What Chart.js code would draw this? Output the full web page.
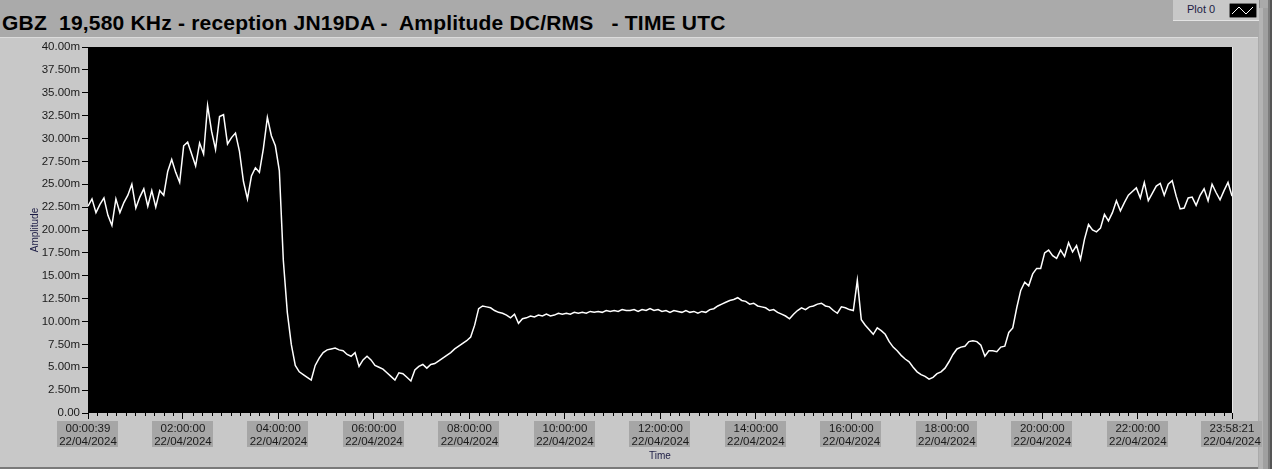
<!DOCTYPE html>
<html>
<head>
<meta charset="utf-8">
<script src="https://cdn.jsdelivr.net/npm/chart.js@4/dist/chart.umd.min.js"></script>
<style>
    html, body { margin: 0; padding: 0; }
    body { width: 1272px; height: 469px; background: #aaaaaa; position: relative; overflow: hidden;
           font-family: "Liberation Sans", Arial, sans-serif; }
    #title { position: absolute; left: 2px; top: 11px; font-size: 21px; font-weight: bold; color: #000;
             white-space: pre; line-height: 24px; letter-spacing: 0.2px; }
    #panel { position: absolute; left: 0; top: 37px; width: 1258px; height: 429px; background: #c8c8c8;
             border-top: 1px solid #dcdcdc; border-bottom: 2px solid #7a7a7a; }
    #legend { position: absolute; left: 1173px; top: 0; width: 86px; height: 20px; background: #c8c8c8;
              border-bottom: 1px solid #e4e4e4; border-right: 1px solid #8c8c8c; }
    #legend span { position: absolute; left: 14px; top: 3px; font-size: 11px; color: #1c1c44; }
    #legend svg { position: absolute; left: 56px; top: 3px; }
    #sb1 { position: absolute; left: 1259px; top: 8px; width: 4px; height: 461px; background: #b4b4b4; }
    #sb2 { position: absolute; left: 1263px; top: 8px; width: 5px; height: 461px; background: #a0a0a0; }
    #sb3 { position: absolute; left: 1268px; top: 0; width: 2px; height: 469px; background: #7c7c7c; }
    #sb4 { position: absolute; left: 1270px; top: 0; width: 2px; height: 469px; background: #555555; }
    #wrap { position: absolute; left: 0; top: 0; width: 1272px; height: 469px; }
</style>
</head>
<body>
<div id="panel"></div>
<div id="title">GBZ  19,580 KHz - reception JN19DA -  Amplitude DC/RMS   - TIME UTC</div>
<div id="legend"><span>Plot 0</span>
    <svg width="28" height="15"><rect x="0" y="0" width="28" height="15" fill="#000" stroke="#e0e0e0" stroke-width="1"/>
    <polyline points="3,11 10,4 17,11 24,4" fill="none" stroke="#fff" stroke-width="1"/></svg></div>
<div id="sb1"></div><div id="sb2"></div><div id="sb3"></div><div id="sb4"></div>
<div id="wrap"><canvas id="c" width="1272" height="469"></canvas></div>
<script>
// time span of the record, seconds after midnight UTC
const startSec = 39;          // 00:00:39
const endSec = 86301;         // 23:58:21
const dateLabel = '22/04/2024';

// x tick positions (seconds)
const tickSecs = [39, 7200, 14400, 21600, 28800, 36000, 43200, 50400, 57600, 64800, 72000, 79200, 86301];

// y axis (milli-units)
const yTicks = [0, 2.5, 5, 7.5, 10, 12.5, 15, 17.5, 20, 22.5, 25, 27.5, 30, 32.5, 35, 37.5, 40];

// amplitude, m (one reading about every 5 minutes)
const amplitude = [
    22.6, 23.4, 21.9, 22.8, 23.5, 21.6, 20.5, 23.4, 21.9, 23.0,
    23.8, 25.0, 22.4, 23.6, 24.5, 22.6, 24.3, 22.5, 24.3, 23.8,
    26.4, 27.7, 26.3, 25.2, 29.2, 29.6, 28.3, 27.0, 29.5, 28.3,
    33.6, 30.8, 28.8, 32.4, 32.6, 29.4, 30.1, 30.6, 28.6, 25.3,
    23.4, 25.9, 26.8, 26.3, 28.9, 32.3, 30.3, 29.2, 26.5, 16.7,
    11.0, 7.5, 5.2, 4.5, 4.2, 3.9, 3.6, 5.2, 6.0, 6.6,
    6.9, 7.0, 7.1, 6.9, 6.8, 6.4, 6.2, 6.6, 5.1, 5.8,
    6.2, 5.8, 5.2, 5.0, 4.8, 4.4, 4.0, 3.6, 4.4, 4.3,
    3.9, 3.5, 4.7, 5.1, 5.3, 4.9, 5.3, 5.4, 5.7, 6.0,
    6.3, 6.6, 7.0, 7.3, 7.6, 7.9, 8.3, 9.6, 11.4, 11.7,
    11.6, 11.5, 11.2, 11.0, 10.9, 10.7, 10.4, 10.8, 9.8, 10.3,
    10.4, 10.6, 10.5, 10.7, 10.6, 10.8, 10.6, 10.7, 10.9, 10.8,
    10.9, 10.8, 11.0, 10.9, 11.0, 10.9, 11.1, 11.0, 11.1, 11.0,
    11.2, 11.1, 11.2, 11.1, 11.3, 11.2, 11.2, 11.3, 11.1, 11.3,
    11.2, 11.4, 11.2, 11.3, 11.1, 11.2, 11.0, 11.2, 11.1, 11.0,
    11.2, 11.0, 11.1, 10.9, 11.1, 11.0, 11.3, 11.4, 11.7, 11.9,
    12.1, 12.3, 12.4, 12.6, 12.3, 12.2, 11.9, 12.0, 11.7, 11.6,
    11.5, 11.2, 11.3, 11.0, 10.8, 10.6, 10.3, 10.8, 11.2, 11.5,
    11.3, 11.6, 11.7, 11.9, 12.0, 11.7, 11.6, 11.2, 10.9, 11.6,
    11.5, 11.3, 11.2, 14.5, 10.2, 9.6, 9.1, 8.6, 9.3, 9.0,
    8.6, 7.8, 7.2, 6.8, 6.3, 5.9, 5.6, 5.0, 4.5, 4.2,
    4.0, 3.7, 3.9, 4.3, 4.5, 4.9, 5.6, 6.4, 7.0, 7.2,
    7.3, 7.8, 7.9, 7.8, 7.4, 6.2, 6.8, 6.8, 6.7, 7.2,
    7.3, 8.8, 9.3, 11.5, 13.4, 14.3, 13.9, 15.2, 15.8, 15.8,
    17.5, 17.8, 17.2, 16.9, 17.8, 17.1, 18.6, 17.6, 18.3, 16.8,
    19.0, 20.6, 20.0, 19.8, 20.2, 21.7, 21.0, 21.9, 23.2, 22.1,
    23.0, 23.8, 24.2, 24.6, 23.5, 25.2, 23.2, 24.0, 24.8, 25.1,
    23.8, 25.0, 25.4, 23.7, 22.3, 22.4, 23.5, 23.6, 22.7, 23.8,
    24.5, 23.2, 25.0, 24.1, 23.3, 24.3, 25.2, 23.7
];

const stepSec = (endSec - startSec) / (amplitude.length - 1);
const points = amplitude.map((v, i) => ({ x: startSec + i * stepSec, y: v }));

const tickFont = { family: 'Liberation Sans', size: 11.5, lineHeight: 1.15 };

const pad2 = (n) => String(n).padStart(2, '0');
const hms = (s) => {
    s = Math.round(s);
    return pad2(Math.floor(s / 3600)) + ':' + pad2(Math.floor(s / 60) % 60) + ':' + pad2(s % 60);
};

const plotBg = {
    id: 'plotBg',
    beforeDraw(chart) {
        const a = chart.chartArea;
        const ctx = chart.ctx;
        const x = chart.scales.x;
        ctx.save();
        ctx.fillStyle = '#000000';
        ctx.fillRect(a.left, a.top, a.right - a.left, a.bottom - a.top);
        ctx.strokeStyle = '#e8e8e8';
        ctx.beginPath();
        ctx.moveTo(a.right + 0.5, a.top);
        ctx.lineTo(a.right + 0.5, a.bottom);
        ctx.stroke();
        // grey boxes behind the time labels
        ctx.font = tickFont.size + 'px ' + tickFont.family;
        const w = Math.ceil(ctx.measureText(dateLabel).width) + 3;
        const top = a.bottom + 8;
        ctx.fillStyle = '#a6a6a6';
        tickSecs.forEach((t) => {
            const cx = Math.round(x.getPixelForValue(t));
            ctx.fillRect(cx - Math.round(w / 2), top, w, 26);
        });
        ctx.restore();
    },
    afterDraw(chart) {
        // minor ticks every 12 minutes on the time axis
        const x = chart.scales.x;
        const ctx = chart.ctx;
        const y0 = chart.chartArea.bottom;
        ctx.save();
        ctx.strokeStyle = '#000000';
        ctx.lineWidth = 1;
        ctx.beginPath();
        for (let t = 720; t < endSec; t += 720) {
            if (t % 7200 === 0) continue;
            const px = Math.round(x.getPixelForValue(t)) + 0.5;
            ctx.moveTo(px, y0);
            ctx.lineTo(px, y0 + 3);
        }
        ctx.stroke();
        ctx.restore();
    }
};

new Chart(document.getElementById('c'), {
    type: 'line',
    data: {
        datasets: [{
            label: 'Plot 0',
            data: points,
            borderColor: '#ffffff',
            borderWidth: 1.5,
            pointRadius: 0,
            tension: 0,
            fill: false
        }]
    },
    options: {
        responsive: false,
        animation: false,
        layout: { padding: { left: 0, top: 47, right: 40, bottom: 0 } },
        plugins: { legend: { display: false }, tooltip: { enabled: false }, title: { display: false } },
        scales: {
            x: {
                type: 'linear',
                min: startSec,
                max: endSec,
                afterBuildTicks: (s) => { s.ticks = tickSecs.map((v) => ({ value: v })); },
                afterFit: (s) => { s.height = 56; },
                border: { display: false },
                grid: { drawOnChartArea: false, tickLength: 6, color: '#000000' },
                ticks: {
                    autoSkip: false,
                    maxRotation: 0,
                    padding: 3,
                    color: '#1a1a1a',
                    font: tickFont,
                    callback: (v) => [hms(v), dateLabel]
                },
                title: {
                    display: true,
                    text: 'Time',
                    color: '#1c1c44',
                    font: { family: 'Liberation Sans', size: 10 },
                    padding: { top: 0, bottom: 7 }
                }
            },
            y: {
                min: 0,
                max: 40,
                afterBuildTicks: (s) => { s.ticks = yTicks.map((v) => ({ value: v })); },
                afterFit: (s) => { s.width = 88; },
                border: { display: false },
                grid: { drawOnChartArea: false, tickLength: 6, color: '#000000' },
                ticks: {
                    padding: 2,
                    color: '#1a1a1a',
                    font: { family: 'Liberation Sans', size: 11.5 },
                    callback: (v) => (v === 0 ? '0.00' : v.toFixed(2) + 'm')
                },
                title: {
                    display: true,
                    text: 'Amplitude',
                    color: '#1c1c44',
                    font: { family: 'Liberation Sans', size: 10 },
                    padding: { top: 29, bottom: 0 }
                }
            }
        }
    },
    plugins: [plotBg]
});
</script>
</body>
</html>
